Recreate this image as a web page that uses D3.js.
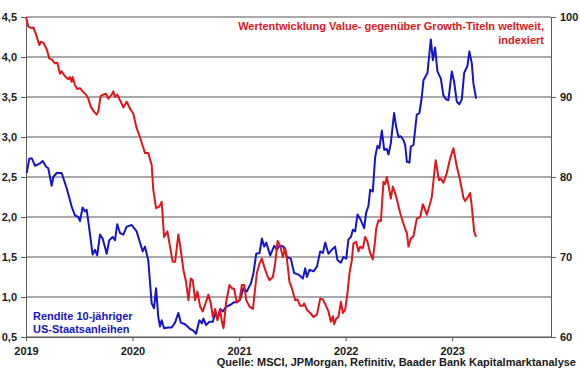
<!DOCTYPE html>
<html>
<head>
<meta charset="utf-8">
<script src="https://cdn.jsdelivr.net/npm/d3@7"></script>
<style>
  body { margin: 0; background: #fff; }
  svg text { font-family: Arial, "Liberation Sans", sans-serif; font-weight: bold; }
</style>
</head>
<body>
<div id="chartDiv"></div>
<script>
//1. Data: [decimal year, value]
// yield of 10y US treasuries, left axis (%)
const yieldPoints = [
  [2019.007,2.55],[2019.031,2.73],[2019.056,2.73],[2019.085,2.64],[2019.131,2.67],[2019.157,2.70],
  [2019.188,2.63],[2019.209,2.61],[2019.241,2.39],[2019.256,2.50],[2019.288,2.55],[2019.335,2.55],
  [2019.382,2.36],[2019.429,2.13],[2019.460,2.02],[2019.491,2.00],[2019.507,1.95],[2019.532,2.12],
  [2019.554,2.07],[2019.570,2.09],[2019.592,1.88],[2019.626,1.53],[2019.648,1.59],[2019.669,1.52],
  [2019.695,1.78],[2019.720,1.73],[2019.758,1.54],[2019.782,1.71],[2019.814,1.75],[2019.836,1.71],
  [2019.857,1.91],[2019.883,1.80],[2019.914,1.78],[2019.946,1.88],[2019.992,1.90],[2020.039,1.82],
  [2020.064,1.71],[2020.096,1.57],[2020.117,1.63],[2020.148,1.46],[2020.180,0.92],[2020.202,0.86],
  [2020.221,1.11],[2020.242,0.75],[2020.258,0.63],[2020.274,0.71],[2020.296,0.61],[2020.336,0.62],
  [2020.368,0.62],[2020.399,0.68],[2020.430,0.80],[2020.453,0.68],[2020.493,0.66],[2020.540,0.60],
  [2020.571,0.58],[2020.596,0.54],[2020.627,0.71],[2020.650,0.67],[2020.665,0.73],[2020.690,0.65],
  [2020.721,0.69],[2020.753,0.69],[2020.775,0.80],[2020.796,0.73],[2020.822,0.85],[2020.847,0.82],
  [2020.878,0.88],[2020.915,0.90],[2020.946,0.93],[2020.984,0.94],[2021.009,0.97],[2021.040,1.11],
  [2021.072,1.07],[2021.110,1.17],[2021.134,1.30],[2021.160,1.54],[2021.191,1.55],[2021.213,1.73],
  [2021.235,1.63],[2021.254,1.68],[2021.291,1.52],[2021.329,1.64],[2021.354,1.59],[2021.378,1.64],
  [2021.416,1.63],[2021.448,1.50],[2021.485,1.48],[2021.516,1.30],[2021.557,1.28],[2021.598,1.23],
  [2021.620,1.36],[2021.636,1.25],[2021.660,1.34],[2021.698,1.32],[2021.730,1.38],[2021.761,1.57],
  [2021.786,1.55],[2021.808,1.68],[2021.838,1.54],[2021.870,1.59],[2021.901,1.63],[2021.923,1.46],
  [2021.955,1.43],[2021.979,1.50],[2022.005,1.48],[2022.026,1.72],[2022.049,1.75],[2022.068,1.84],
  [2022.089,1.82],[2022.111,2.03],[2022.136,1.98],[2022.152,1.93],[2022.174,1.86],[2022.192,2.05],
  [2022.214,2.14],[2022.230,2.34],[2022.255,2.32],[2022.277,2.75],[2022.299,2.89],[2022.317,2.86],
  [2022.340,3.08],[2022.362,2.84],[2022.387,2.85],[2022.402,2.78],[2022.424,2.92],[2022.455,3.30],
  [2022.474,3.13],[2022.496,3.00],[2022.518,3.01],[2022.543,2.96],[2022.559,2.90],[2022.575,2.69],
  [2022.599,2.68],[2022.612,2.88],[2022.637,2.90],[2022.668,3.28],[2022.693,3.30],[2022.715,3.50],
  [2022.731,3.71],[2022.768,3.80],[2022.800,4.22],[2022.819,3.96],[2022.840,4.12],[2022.862,3.82],
  [2022.894,3.73],[2022.918,3.52],[2022.944,3.47],[2022.965,3.46],[2022.997,3.82],[2023.019,3.69],
  [2023.044,3.44],[2023.068,3.41],[2023.091,3.47],[2023.113,3.80],[2023.144,3.89],[2023.162,4.07],
  [2023.185,3.92],[2023.200,3.67],[2023.225,3.48]
];

// value vs growth, indexed, right axis
const ratioPoints = [
  [2019.000,100.0],[2019.022,98.8],[2019.054,98.6],[2019.069,98.7],[2019.100,97.6],[2019.125,96.5],
  [2019.138,96.9],[2019.162,96.8],[2019.194,96.0],[2019.219,94.8],[2019.241,94.7],[2019.272,94.2],
  [2019.294,94.3],[2019.319,92.9],[2019.335,93.2],[2019.366,92.6],[2019.397,92.2],[2019.413,92.5],
  [2019.429,91.9],[2019.438,92.5],[2019.460,91.5],[2019.482,91.0],[2019.507,91.1],[2019.532,90.7],
  [2019.563,90.3],[2019.585,89.8],[2019.608,88.8],[2019.638,88.2],[2019.664,87.8],[2019.679,88.2],
  [2019.701,90.1],[2019.726,90.3],[2019.751,90.4],[2019.773,89.8],[2019.805,90.3],[2019.820,90.7],
  [2019.836,90.0],[2019.857,90.3],[2019.883,89.6],[2019.914,88.7],[2019.946,89.4],[2019.983,88.4],
  [2020.008,87.9],[2020.039,86.1],[2020.070,85.0],[2020.117,83.0],[2020.148,83.0],[2020.180,81.5],
  [2020.195,78.4],[2020.221,76.1],[2020.252,76.3],[2020.274,76.9],[2020.296,72.5],[2020.327,73.2],
  [2020.352,71.3],[2020.377,69.4],[2020.399,69.4],[2020.430,72.8],[2020.446,71.5],[2020.477,68.4],
  [2020.502,66.9],[2020.524,64.6],[2020.546,67.3],[2020.565,67.1],[2020.587,64.6],[2020.608,65.7],
  [2020.634,63.8],[2020.659,63.2],[2020.681,64.1],[2020.712,65.3],[2020.734,64.2],[2020.753,62.5],
  [2020.775,63.5],[2020.796,62.1],[2020.822,63.4],[2020.838,61.9],[2020.853,61.1],[2020.878,64.4],
  [2020.909,66.5],[2020.931,66.1],[2020.953,66.0],[2020.978,64.3],[2021.003,64.6],[2021.025,66.5],
  [2021.047,66.5],[2021.066,64.6],[2021.097,63.8],[2021.129,63.5],[2021.141,65.0],[2021.166,68.0],
  [2021.191,69.2],[2021.213,69.8],[2021.235,68.8],[2021.260,67.8],[2021.285,67.1],[2021.316,67.5],
  [2021.338,69.2],[2021.360,72.0],[2021.385,71.4],[2021.410,70.0],[2021.432,71.1],[2021.448,69.8],
  [2021.472,66.9],[2021.495,66.1],[2021.526,64.6],[2021.547,64.7],[2021.573,63.9],[2021.598,63.9],
  [2021.610,64.2],[2021.636,63.4],[2021.667,63.0],[2021.698,62.5],[2021.730,62.8],[2021.761,64.8],
  [2021.786,64.7],[2021.808,64.1],[2021.838,63.2],[2021.861,61.9],[2021.880,62.6],[2021.892,61.6],
  [2021.911,62.3],[2021.932,62.5],[2021.955,64.4],[2021.974,63.0],[2021.995,63.4],[2022.017,65.5],
  [2022.036,68.0],[2022.058,69.6],[2022.073,71.7],[2022.099,71.9],[2022.120,70.7],[2022.136,71.3],
  [2022.161,71.1],[2022.183,72.5],[2022.205,71.9],[2022.230,70.5],[2022.255,69.7],[2022.277,72.1],
  [2022.286,73.5],[2022.308,74.6],[2022.331,74.5],[2022.355,79.4],[2022.371,79.1],[2022.387,80.0],
  [2022.402,79.0],[2022.424,77.3],[2022.443,78.8],[2022.465,78.0],[2022.486,76.9],[2022.512,75.5],
  [2022.537,74.4],[2022.559,73.5],[2022.575,73.0],[2022.590,71.3],[2022.612,72.3],[2022.637,72.6],
  [2022.668,74.8],[2022.700,75.0],[2022.725,76.6],[2022.746,75.9],[2022.762,75.3],[2022.787,76.4],
  [2022.809,77.5],[2022.845,82.1],[2022.876,79.6],[2022.894,79.8],[2022.918,79.3],[2022.950,80.5],
  [2022.981,82.3],[2023.012,83.6],[2023.044,81.3],[2023.075,79.6],[2023.106,77.4],[2023.122,77.0],
  [2023.153,77.6],[2023.169,78.0],[2023.185,76.3],[2023.207,73.2],[2023.225,72.5]
];

//2. tick values & labels
const yearTicks = [2019, 2020, 2021, 2022, 2023];
const leftTicks = [0.5, 1.0, 1.5, 2.0, 2.5, 3.0, 3.5, 4.0, 4.5];
const rightTicks = [60, 70, 80, 90, 100];
const titleLines = ["Wertentwicklung Value- gegenüber Growth-Titeln weltweit,", "indexiert"];
const yieldLines = ["Rendite 10-jähriger", "US-Staatsanleihen"];
const sourceText = "Quelle: MSCI, JPMorgan, Refinitiv, Baader Bank Kapitalmarktanalyse";

//3. settings
var s = {
  w: 580, h: 375,
  m: { t: 17, r: 29, b: 38, l: 26 },
  red: "#e3151b",
  blue: "#1414cc",
  grid: "#8c8c8c",
  axis: "#5a5a5a"
};

function decToDate(y){
  const yr = Math.floor(y);
  const a = new Date(yr, 0, 1), b = new Date(yr + 1, 0, 1);
  return new Date(+a + (y - yr) * (b - a));
}

const innerW = s.w - s.m.l - s.m.r;
const innerH = s.h - s.m.t - s.m.b;

const svgObj = d3.select("#chartDiv").append("svg")
  .attr("width", s.w)
  .attr("height", s.h);

const g = svgObj.append("g")
  .attr("transform", `translate(${s.m.l},${s.m.t})`);

//4. scales
const xScale = d3.scaleTime()
  .domain([new Date(2019, 0, 1), new Date(2023, 11, 6)])
  .range([0, innerW]);
const yLeft = d3.scaleLinear().domain([0.5, 4.5]).range([innerH, 0]);
const yRight = d3.scaleLinear().domain([60, 100]).range([innerH, 0]);

const deFmt = d3.formatLocale({ decimal: ",", thousands: ".", grouping: [3], currency: ["", "€"] }).format(".1f");

//5. gridlines (every left tick)
g.append("g").selectAll("line")
  .data(leftTicks)
  .join("line")
  .attr("x1", 0).attr("x2", innerW)
  .attr("y1", d => yLeft(d)).attr("y2", d => yLeft(d))
  .attr("stroke", s.grid)
  .attr("stroke-width", 1.4);

//6. axes
function styleAxis(sel){
  sel.selectAll("path, line").attr("stroke", s.axis);
  sel.selectAll("text")
    .attr("fill", "#1a1a1a")
    .attr("font-size", 11)
    .attr("font-family", "Arial, 'Liberation Sans', sans-serif");
}

g.append("g")
  .call(d3.axisLeft(yLeft).tickValues(leftTicks).tickFormat(deFmt).tickSize(5).tickSizeOuter(0).tickPadding(4))
  .call(styleAxis);

g.append("g")
  .attr("transform", `translate(${innerW},0)`)
  .call(d3.axisRight(yRight).tickValues(rightTicks).tickSize(5).tickSizeOuter(0).tickPadding(4))
  .call(styleAxis);

g.append("g")
  .attr("transform", `translate(0,${innerH})`)
  .call(d3.axisBottom(xScale).tickValues(yearTicks.map(y => new Date(y, 0, 1))).tickFormat(d3.timeFormat("%Y")).tickSize(4).tickSizeOuter(0).tickPadding(6))
  .call(styleAxis);

//7. lines
const yieldLine = d3.line()
  .x(d => xScale(decToDate(d[0])))
  .y(d => yLeft(d[1]));
const ratioLine = d3.line()
  .x(d => xScale(decToDate(d[0])))
  .y(d => yRight(d[1]));

g.append("path")
  .datum(yieldPoints)
  .attr("d", yieldLine)
  .attr("fill", "none")
  .attr("stroke", s.blue)
  .attr("stroke-width", 2)
  .attr("stroke-linejoin", "round");

g.append("path")
  .datum(ratioPoints)
  .attr("d", ratioLine)
  .attr("fill", "none")
  .attr("stroke", s.red)
  .attr("stroke-width", 2)
  .attr("stroke-linejoin", "round");

//8. labels
svgObj.append("g").selectAll("text")
  .data(titleLines)
  .join("text")
  .attr("x", 544)
  .attr("y", (d, i) => 30 + i * 13.5)
  .attr("text-anchor", "end")
  .attr("font-size", 11)
  .attr("fill", s.red)
  .text(d => d);

svgObj.append("g").selectAll("text")
  .data(yieldLines)
  .join("text")
  .attr("x", 33)
  .attr("y", (d, i) => 319.5 + i * 13)
  .attr("font-size", 11)
  .attr("fill", s.blue)
  .text(d => d);

svgObj.append("text")
  .attr("x", 576)
  .attr("y", 366)
  .attr("text-anchor", "end")
  .attr("font-size", 11)
  .attr("fill", "#1a1a1a")
  .text(sourceText);
</script>
</body>
</html>
